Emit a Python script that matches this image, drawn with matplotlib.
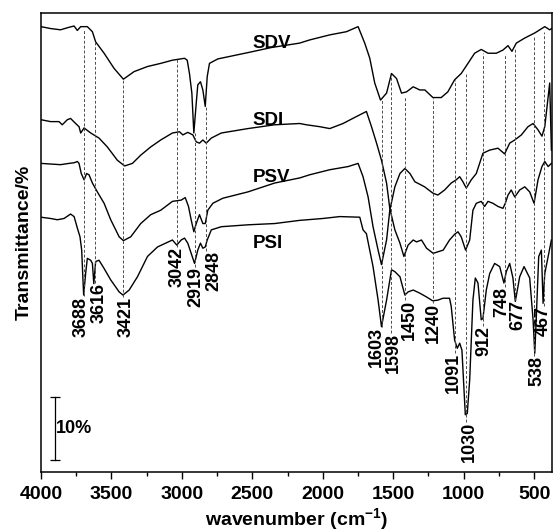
import matplotlib.pyplot as plt
from matplotlib.ticker import MultipleLocator

plt.rcParams['font.family'] = ['Liberation Sans', 'DejaVu Sans']
plt.rcParams['font.weight'] = 'bold'
plt.rcParams['mathtext.fontset'] = 'custom'
plt.rcParams['mathtext.rm'] = 'Liberation Sans:bold'
plt.rcParams['mathtext.bf'] = 'Liberation Sans:bold'

# --- spectra (wavenumber, transmittance %) ---
sdv_w = [4000, 3932, 3861, 3801, 3765, 3742, 3718, 3671, 3635, 3612, 3552, 3481, 3415, 3339,
         3244, 3150, 3067, 2981, 2962, 2946, 2929, 2915, 2898, 2887, 2868, 2851, 2834, 2820,
         2804, 2745, 2531, 2365, 2164, 2093, 1950, 1832, 1749, 1702, 1666, 1631, 1590, 1547,
         1512, 1476, 1441, 1405, 1358, 1311, 1275, 1218, 1159, 1112, 1064, 1017, 969, 922,
         875, 827, 768, 721, 685, 657, 626, 566, 495, 424, 389, 375]
sdv_t = [70.3, 70.0, 69.8, 70.2, 70.4, 69.7, 70.3, 70.3, 69.5, 67.9, 66.1, 63.7, 62.0, 63.2,
         64.0, 64.5, 65.0, 65.3, 65.0, 62.9, 59.8, 53.5, 58.2, 61.1, 61.6, 60.3, 57.7, 62.4,
         64.5, 65.2, 66.2, 67.0, 67.7, 68.2, 69.0, 69.5, 70.3, 67.7, 65.3, 61.4, 58.7, 59.8,
         62.9, 62.1, 59.8, 60.0, 60.8, 60.3, 60.3, 59.1, 59.1, 60.0, 61.9, 62.9, 64.5, 66.1,
         66.7, 66.1, 66.1, 66.6, 67.3, 66.4, 67.7, 68.5, 69.3, 70.3, 69.8, 70.0]

sdi_w = [4000, 3932, 3872, 3849, 3813, 3790, 3754, 3730, 3718, 3694, 3647, 3588, 3529, 3458,
         3406, 3351, 3292, 3221, 3150, 3067, 3017, 2993, 2958, 2922, 2898, 2875, 2851, 2827,
         2791, 2720, 2531, 2341, 2164, 2116, 2022, 1950, 1856, 1761, 1690, 1654, 1618, 1583,
         1547, 1524, 1488, 1452, 1424, 1394, 1358, 1334, 1299, 1263, 1216, 1145, 1100, 1064,
         1040, 1017, 986, 957, 934, 910, 875, 851, 827, 792, 756, 721, 704, 685, 662, 637,
         602, 566, 531, 500, 472, 444, 424, 400, 377]
sdi_t = [55.6, 55.3, 55.3, 54.8, 55.6, 55.8, 55.0, 54.5, 53.5, 54.3, 53.5, 52.7, 51.3, 49.2,
         48.3, 48.7, 50.0, 51.3, 52.4, 53.5, 53.7, 53.2, 53.6, 53.2, 52.1, 51.9, 52.4, 51.9,
         52.7, 53.5, 54.2, 54.8, 55.0, 54.8, 54.5, 54.2, 55.0, 56.1, 56.9, 54.5, 51.9, 49.2,
         45.6, 41.6, 38.2, 36.1, 34.0, 35.8, 36.6, 36.3, 36.6, 35.3, 34.5, 35.0, 36.6, 37.5,
         37.9, 37.1, 35.0, 36.6, 41.3, 42.4, 42.7, 41.9, 42.7, 42.4, 41.9, 41.6, 42.4, 43.7,
         44.5, 43.4, 44.5, 45.0, 44.2, 42.4, 46.1, 48.2, 49.0, 48.2, 48.7]

psv_w = [4000, 3932, 3861, 3801, 3765, 3742, 3730, 3714, 3694, 3676, 3659, 3635, 3600, 3552,
         3505, 3445, 3415, 3363, 3292, 3221, 3150, 3067, 3005, 2976, 2953, 2934, 2915, 2898,
         2875, 2851, 2834, 2816, 2780, 2709, 2531, 2341, 2164, 2093, 1950, 1820, 1749, 1714,
         1678, 1643, 1607, 1583, 1547, 1524, 1488, 1452, 1417, 1381, 1346, 1311, 1277, 1218,
         1183, 1135, 1088, 1053, 1028, 1005, 981, 946, 910, 863, 815, 756, 709, 673, 637, 590,
         543, 507, 472, 444, 424, 400, 389, 377]
psv_t = [48.7, 48.6, 48.5, 48.7, 48.8, 49.0, 48.7, 47.1, 46.1, 47.1, 46.9, 45.6, 44.2, 42.4,
         39.8, 37.1, 36.5, 37.1, 39.2, 40.6, 41.3, 42.7, 42.9, 43.3, 41.9, 39.8, 37.9, 39.2,
         40.6, 39.2, 39.2, 41.3, 42.4, 43.2, 44.2, 45.6, 46.4, 46.9, 47.7, 48.2, 48.7, 46.6,
         43.4, 38.7, 35.0, 32.7, 36.6, 41.3, 45.0, 47.1, 47.9, 47.1, 45.8, 45.4, 45.0, 44.0,
         43.7, 44.5, 45.6, 46.1, 46.6, 45.8, 44.8, 46.1, 47.1, 50.3, 50.8, 51.1, 50.2, 51.9,
         52.4, 53.2, 54.5, 55.0, 54.0, 53.0, 54.5, 59.2, 61.4, 50.8]

psi_w = [4000, 3932, 3884, 3836, 3790, 3765, 3742, 3723, 3711, 3701, 3697, 3683, 3671, 3647,
         3635, 3625, 3612, 3588, 3552, 3505, 3445, 3418, 3374, 3315, 3244, 3173, 3067, 3036,
         3005, 2981, 2958, 2934, 2910, 2887, 2868, 2851, 2834, 2820, 2791, 2720, 2531, 2341,
         2164, 1998, 1879, 1737, 1714, 1690, 1643, 1607, 1583, 1547, 1512, 1488, 1452, 1417,
         1394, 1358, 1311, 1263, 1220, 1183, 1147, 1100, 1088, 1064, 1045, 1028, 1012, 988,
         974, 957, 934, 917, 898, 875, 863, 839, 815, 780, 744, 714, 697, 673, 650, 633, 602,
         571, 531, 507, 495, 483, 467, 448, 436, 424, 400, 377]
psi_t = [40.2, 40.0, 39.8, 40.0, 40.7, 40.3, 38.5, 37.1, 35.0, 29.8, 27.9, 31.3, 33.7, 33.4,
         32.9, 29.7, 33.2, 33.4, 32.1, 30.3, 28.4, 27.9, 28.7, 30.8, 34.0, 35.5, 36.6, 35.8,
         36.6, 36.9, 36.1, 34.5, 32.9, 35.0, 36.1, 35.3, 35.5, 36.6, 38.2, 38.7, 39.0, 39.2,
         39.7, 40.0, 40.3, 40.2, 38.2, 37.6, 32.4, 27.1, 22.9, 27.1, 31.9, 31.6, 30.8, 27.9,
         28.4, 28.7, 28.2, 27.6, 27.0, 27.1, 27.4, 27.4, 26.1, 20.8, 19.5, 20.3, 19.2, 9.0,
         9.2, 14.5, 27.1, 30.6, 29.8, 24.0, 24.2, 28.7, 31.3, 32.9, 32.4, 29.8, 31.6, 32.9,
         30.6, 26.9, 30.8, 32.4, 30.6, 24.0, 18.7, 25.0, 34.0, 35.0, 26.6, 31.3, 34.0, 36.6]

names = ['SDV', 'SDI', 'PSV', 'PSI']
name_t = [66.9, 54.8, 45.8, 35.4]

# peak markers: dashed line x, top, bottom ; label text, label x, label top
peak_x = [3694, 3616, 3415, 3036, 2908, 2827, 1581, 1517, 1417, 1220, 1060, 986, 863, 709, 633, 500, 429]
peak_top = [69.7, 67.9, 62.0, 65.2, 53.5, 57.7, 58.7, 62.4, 59.2, 59.0, 61.9, 62.9, 66.2, 65.8, 66.9, 68.7, 69.5]
peak_bot = [27.8, 29.8, 27.6, 35.5, 32.4, 34.8, 22.9, 21.9, 27.1, 26.6, 18.7, 7.9, 23.0, 29.2, 27.1, 18.2, 26.2]
peak_text = ['3688', '3616', '3421', '3042', '2919', '2848', '1603', '1598', '1450', '1240',
             '1091', '1030', '912', '748', '677', '538', '467']
label_x = [3713, 3586, 3396, 3031, 2898, 2775, 1618, 1500, 1382, 1215, 1074, 960, 856, 730, 612, 481, 438]
label_top = [27.6, 29.8, 27.6, 35.5, 32.4, 34.8, 22.9, 21.9, 27.1, 26.6, 18.7, 7.9, 23.0, 29.1, 27.1, 18.2, 26.2]

fig = plt.figure(figsize=(5.53, 5.32), dpi=100)
ax = fig.add_axes([0.0741, 0.1133, 0.9235, 0.8628])

for w, t in [(sdv_w, sdv_t), (sdi_w, sdi_t), (psv_w, psv_t), (psi_w, psi_t)]:
    ax.plot(w, t, color='black', lw=1.0)

for i in range(len(peak_x)):
    ax.plot([peak_x[i], peak_x[i]], [peak_bot[i], peak_top[i]], color='0.3', lw=0.7,
            linestyle=(0, (3, 2)))
    ax.text(label_x[i], label_top[i], peak_text[i], rotation=90, ha='center', va='top',
            fontsize=13, fontweight='bold')

for n, t in zip(names, name_t):
    ax.text(2500, t, n, ha='left', va='baseline', fontsize=13.5, fontweight='bold')

# 10% scale bar
ax.plot([3900, 3900], [1.85, 11.85], color='black', lw=0.9, marker='_', markersize=7, mew=0.9)
ax.text(3893, 6.9, '10%', ha='left', va='center', fontsize=13, fontweight='bold')

ax.set_xlim(4000, 375)
ax.set_ylim(0, 72.5)
ax.set_yticks([])
ax.xaxis.set_major_locator(MultipleLocator(500))
ax.xaxis.set_minor_locator(MultipleLocator(250))
ax.tick_params(axis='x', which='major', direction='out', length=5, width=1, labelsize=14, pad=5)
ax.tick_params(axis='x', which='minor', direction='out', length=3, width=1)
for lab in ax.get_xticklabels():
    lab.set_fontweight('bold')
for s in ax.spines.values():
    s.set_linewidth(1.1)

ax.set_xlabel(r'wavenumber (cm$^{\mathbf{-1}}$)', fontsize=14, fontweight='bold', labelpad=3)
ax.set_ylabel('Transmittance/%', fontsize=14, fontweight='bold', labelpad=6)

plt.savefig('out.png', dpi=100)
